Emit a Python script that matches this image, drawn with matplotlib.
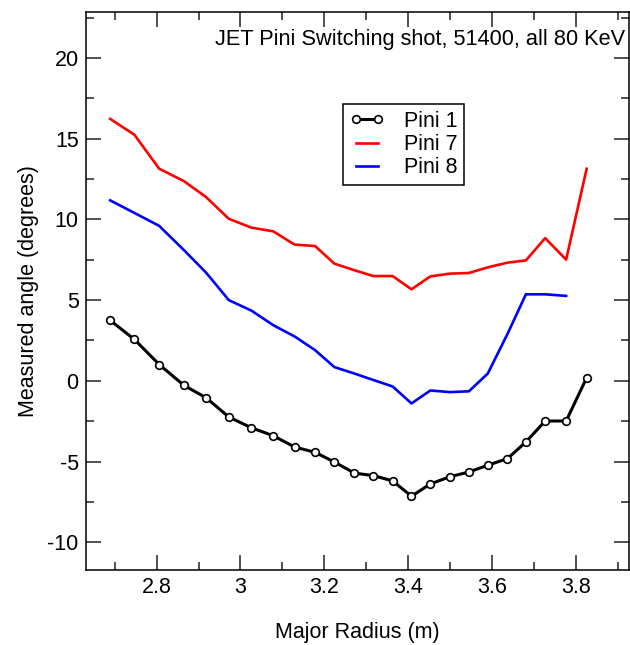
import matplotlib
matplotlib.use("Agg")
import matplotlib.pyplot as plt
from matplotlib.ticker import MultipleLocator

plt.rcParams['font.family'] = ['Liberation Sans', 'DejaVu Sans']
plt.rcParams['axes.unicode_minus'] = False

# major radius (m) of each channel
radius = [2.689, 2.747, 2.806, 2.865, 2.918, 2.972, 3.026, 3.078, 3.129, 3.178,
          3.224, 3.272, 3.317, 3.363, 3.408, 3.453, 3.500, 3.545, 3.590, 3.637,
          3.681, 3.727, 3.777, 3.826]

# measured angle (degrees)
pini1 = [3.75, 2.56, 1.01, -0.28, -1.05, -2.24, -2.91, -3.40, -4.10, -4.43,
         -5.03, -5.72, -5.87, -6.20, -7.15, -6.39, -5.94, -5.65, -5.23, -4.82,
         -3.79, -2.49, -2.49, 0.19]
pini7 = [16.23, 15.24, 13.14, 12.37, 11.38, 10.04, 9.49, 9.26, 8.44, 8.35,
         7.26, 6.85, 6.49, 6.49, 5.67, 6.47, 6.64, 6.68, 7.03, 7.32,
         7.46, 8.84, 7.51, 13.14]
pini8 = [11.18, 10.40, 9.60, 8.10, 6.70, 5.00, 4.35, 3.45, 2.75, 1.90,
         0.85, 0.45, 0.05, -0.35, -1.40, -0.60, -0.70, -0.65, 0.45, 2.90,
         5.36, 5.36, 5.26]

fig = plt.figure(figsize=(6.3, 6.45), dpi=100)
ax = fig.add_axes([0.136, 0.1163, 0.8624, 0.8651])

ax.plot(radius, pini1, color='black', lw=2.2, marker='o', ms=5.5,
        mfc='white', mec='black', mew=1.2, label='Pini 1')
ax.plot(radius, pini7, color='red', lw=1.9, label='Pini 7')
ax.plot(radius[:len(pini8)], pini8, color='blue', lw=1.9, label='Pini 8')

ax.set_xlim(2.6306, 3.927)
ax.set_ylim(-11.72, 22.85)

ax.xaxis.set_major_locator(MultipleLocator(0.2))
ax.xaxis.set_minor_locator(MultipleLocator(0.1))
ax.yaxis.set_major_locator(MultipleLocator(5))
ax.yaxis.set_minor_locator(MultipleLocator(2.5))
ax.xaxis.set_major_formatter(plt.FuncFormatter(lambda v, p: f"{v:g}"))

ax.tick_params(which='both', direction='in', top=True, right=True,
               labelsize=15.5, width=1.1, color='#222222')
ax.tick_params(which='major', length=11, pad=5)
ax.tick_params(which='minor', length=5.5)
for s in ax.spines.values():
    s.set_linewidth(1.1)

ax.set_xlabel('Major Radius (m)', fontsize=15.5, labelpad=17)
ax.set_ylabel('Measured angle (degrees)', fontsize=15.5, labelpad=6)

fig.text(0.992, 0.930, 'JET Pini Switching shot, 51400, all 80 KeV',
         ha='right', va='baseline', fontsize=15.7)

leg = ax.legend(loc='upper left', bbox_to_anchor=(0.545, 0.838),
                bbox_transform=fig.transFigure, fontsize=15.5, frameon=True,
                fancybox=False, edgecolor='black', framealpha=1, numpoints=2,
                handlelength=1.6, handletextpad=0.9, labelspacing=0.1,
                borderpad=0.3, borderaxespad=0)
leg.get_frame().set_linewidth(1.1)

fig.savefig('out.png', dpi=100)
